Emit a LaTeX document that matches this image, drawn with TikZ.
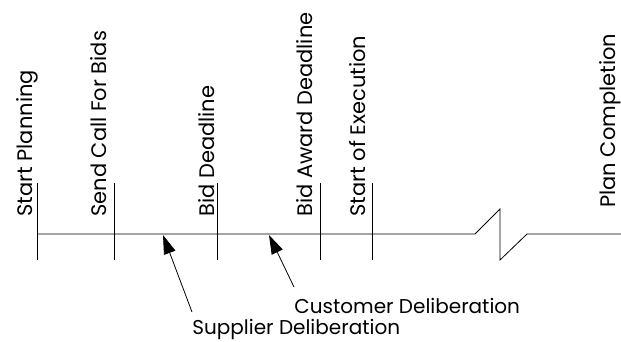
\documentclass[tikz,border=0pt]{standalone}
\usepackage{fontspec}
\setmainfont{Poppins}
\usetikzlibrary{positioning}
\usetikzlibrary{arrows.meta}

\begin{document}
\begin{tikzpicture}[x=1pt, y=-1pt, line width=.8pt,
		mile/.style={rotate=90, anchor=base west, inner sep=0pt, font=\fontsize{21}{21}\selectfont},
		phase/.style={anchor=base west, inner sep=0pt, font=\fontsize{20}{20}\selectfont},
		pointer/.style={-{Triangle[length=19pt, width=12pt]}}]
				\useasboundingbox (0,0) rectangle (621,341);
				% points on the time axis
				\coordinate (p1) at ( 37,234);
				\coordinate (p2) at (114,234);
				\coordinate (p3) at (217,234);
				\coordinate (p4) at (320,234);
				\coordinate (p5) at (372,234);
				\coordinate (b1) at (475,234);
				\coordinate (b2) at (500,209);
				\coordinate (b3) at (500,260);
				\coordinate (b4) at (527,234);
				\coordinate (e)  at (621,234);
				\draw (p1) -- (b1) -- (b2) -- (b3) -- (b4) -- (e);
				\draw (p1) ++(0,-51) -- ++(0,77);
				\draw (p2) ++(0,-51) -- ++(0,77);
				\draw (p3) ++(0,-51) -- ++(0,77);
				\draw (p4) ++(0,-51) -- ++(0,77);
				\draw (p5) ++(0,-51) -- ++(0,77);
				% milestones
				\node[mile] (start)  at ( 32,217) {Start Planning};
				\node[mile] (call)   at (106,217) {Send Call For Bids};
				\node[mile] (bid)    at (214,217) {Bid Deadline};
				\node[mile] (award)  at (312,217) {Bid Award Deadline};
				\node[mile] (exec)   at (365,217) {Start of Execution};
				\node[mile] (finish) at (615,208) {Plan Completion};
				% deliberation phases
				\node[phase] (cust) at (294,313) {Customer Deliberation};
				\node[phase] (supp) at (192,334) {Supplier Deliberation};
				\coordinate (ct) at (294,287);
				\coordinate (ch) at (269,235);
				\coordinate (st) at (192,312);
				\coordinate (sh) at (163,235);
				\draw[pointer] (ct) -- (ch);
				\draw[pointer] (st) -- (sh);
			\end{tikzpicture}
\end{document}
